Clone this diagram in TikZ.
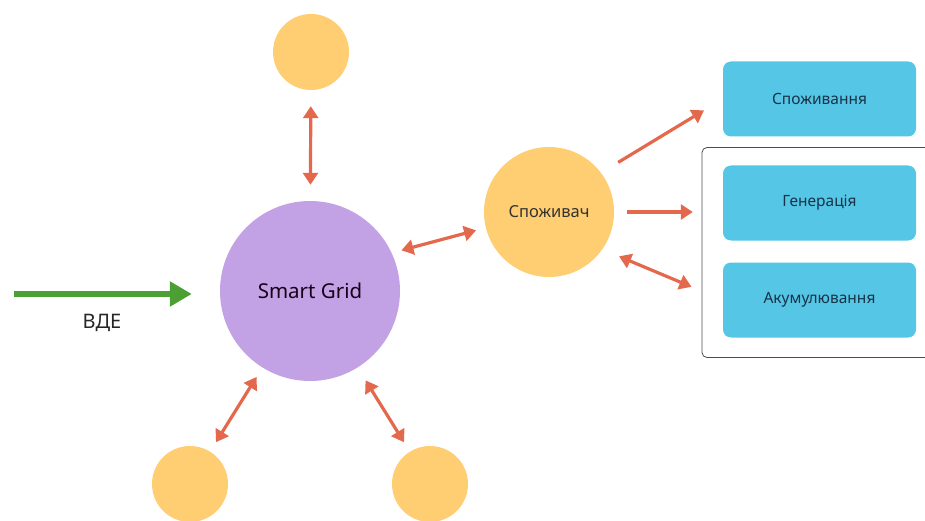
\documentclass[tikz,border=0pt]{standalone}
\usepackage{fontspec}
\setmainfont{Noto Sans}
\usetikzlibrary{arrows.meta}
\definecolor{peach}{HTML}{FFCD72}
\definecolor{lilac}{HTML}{C2A2E4}
\definecolor{sky}{HTML}{55C6E6}
\definecolor{coral}{HTML}{E4694C}
\definecolor{leaf}{HTML}{4C9F35}
\definecolor{navy}{HTML}{173347}
\tikzset{
  dot/.style={circle, fill=peach, minimum size=76pt, inner sep=0pt},
  stage/.style={rectangle, rounded corners=8pt, fill=sky, minimum width=193pt, minimum height=75pt,
    font=\fontsize{15.5}{18}\selectfont, text=navy},
  link/.style={{Triangle[length=12pt,width=15pt]}-{Triangle[length=12pt,width=15pt]}, line width=3.2pt, coral},
  flow/.style={-{Triangle[length=12pt,width=15pt]}, line width=3.2pt, coral},
}
\begin{document}
\begin{tikzpicture}[x=1pt, y=-1pt]
\useasboundingbox (0,0) rectangle (925,521);
\node[dot] (top) at (311,52) {};
\node[circle, fill=lilac, minimum size=180pt, text=black!80!violet, font=\fontsize{20.5}{24}\selectfont] (sg) at (310,291) {Smart Grid};
\node[dot] (left) at (190,484) {};
\node[dot] (right) at (430,484) {};
\node[dot, minimum size=130pt, text=black!80, font=\fontsize{16.5}{19}\selectfont] (cons) at (549,212) {Споживач};
% group of generation and storage
\node[draw=black!70, line width=0.8pt, rounded corners=5pt, minimum width=230pt, minimum height=210pt] (grp) at (817,252.5) {};
\node[stage] (use) at (819.5,99) {Споживання};
\node[stage] (gen) at (819.5,203) {Генерація};
\node[stage] (acc) at (819.5,300) {Акумулювання};
% green input
\coordinate (src) at (14,294);
\draw[-{Triangle[length=22pt,width=24pt]}, line width=6pt, leaf, shorten >=28pt] (src) -- (src -| sg.west);
\node[font=\fontsize{20}{24}\selectfont, text=black!85] (vde) at (102,323) {ВДЕ};
% links
\draw[link, shorten <=16pt, shorten >=16pt] (top) -- (sg);
\draw[link, shorten <=11pt, shorten >=11pt] (sg) -- (left);
\draw[link, shorten <=15pt, shorten >=11pt] (sg) -- (right);
\draw[link, shorten <=10pt, shorten >=10pt] (sg.25) -- (cons.194);
\draw[flow, shorten <=20pt, shorten >=22pt] (cons.37) -- (use.west);
\draw[flow, shorten <=13pt, shorten >=30pt] (cons.east) -- (cons.east -| gen.west);
\draw[link, shorten <=18pt, shorten >=34pt] (cons.-35) -- (acc.west);
\end{tikzpicture}
\end{document}
